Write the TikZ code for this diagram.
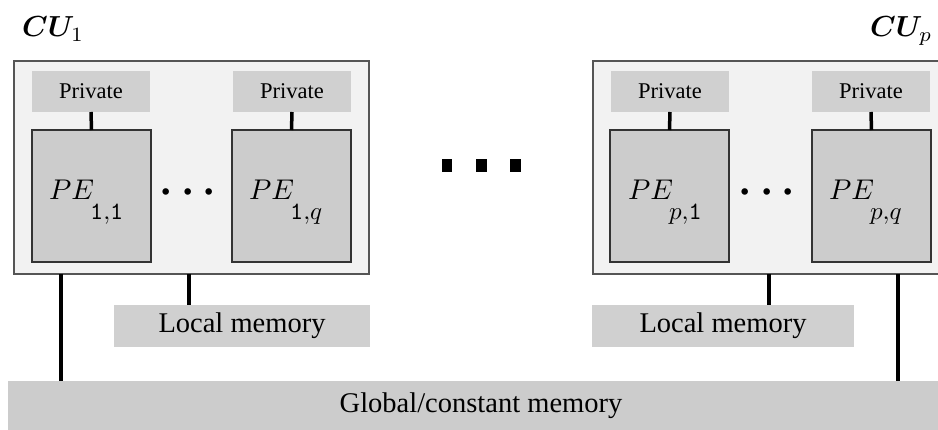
\documentclass[tikz,border=0pt]{standalone}
\usepackage{amsmath,bm}
\usepackage[no-math]{fontspec}
\setmainfont{Liberation Serif}
\usetikzlibrary{calc}
\definecolor{cuback}{HTML}{F2F2F2}
\definecolor{memgray}{HTML}{D0D0D0}
\definecolor{pegray}{HTML}{CCCCCC}
\definecolor{edgegray}{HTML}{555555}
% math set at 10pt and enlarged, so its fonts need not exist at big sizes
\newcommand{\bigmath}[2]{\scalebox{#1}{\normalsize$#2$}}

\begin{document}
\begin{tikzpicture}[x=1pt,y=-1pt,
  box/.style={inner sep=0pt, outer sep=0pt, anchor=north west},
  cubox/.style={box, draw=edgegray, fill=cuback, line width=1.5pt,
    minimum width=355pt, minimum height=213pt},
  privbox/.style={box, fill=memgray, minimum width=118pt, minimum height=41pt,
    font=\fontsize{22.5}{26}\selectfont},
  pebox/.style={box, draw=black!80, fill=pegray, line width=1.8pt,
    minimum width=119pt, minimum height=132pt},
  membox/.style={box, fill=memgray, minimum height=42pt,
    font=\fontsize{28.5}{32}\selectfont},
  culabel/.style={anchor=base west, inner sep=0pt},
  pelabel/.style={anchor=base west, inner sep=0pt},
  pedots/.style={inner sep=0pt},
  bigdot/.style={fill=black, inner sep=0pt, minimum width=10.5pt, minimum height=13pt},
  link/.style={line width=3.5pt}]

\useasboundingbox (0,0) rectangle (938,430);

% compute units
\node[cubox] (cu1) at (14,61) {};
\node[cubox] (cup) at (593,61) {};
\node[culabel] (cu1lab) at (22,37) {\bigmath{2.9}{\bm{CU}_1}};
\node[culabel] (cuplab) at (870,37) {\bigmath{2.9}{\bm{CU}_p}};

% private memories
\node[privbox] (pr11) at (32,71) {Private};
\node[privbox] (pr1q) at (233,71) {Private};
\node[privbox] (prp1) at (611,71) {Private};
\node[privbox] (prpq) at (812,71) {Private};

% processing elements
\newcommand{\pelab}[1]{\bigmath{2.85}{PE}\kern-4pt\raisebox{-20pt}{\bigmath{2.5}{#1}}}
\node[pebox] (pe11) at (32,130) {};
\node[pebox] (pe1q) at (232,130) {};
\node[pebox] (pep1) at (610,130) {};
\node[pebox] (pepq) at (812,130) {};
\node[pelabel] (pe11lab) at ($(pe11.north west)+(17,70)$) {\pelab{\mathtt{1}{,}\mathtt{1}}};
\node[pelabel] (pe1qlab) at ($(pe1q.north west)+(17,70)$) {\pelab{\mathtt{1}{,}q}};
\node[pelabel] (pep1lab) at ($(pep1.north west)+(18,70)$) {\pelab{p{,}\mathtt{1}}};
\node[pelabel] (pepqlab) at ($(pepq.north west)+(17,70)$) {\pelab{p{,}q}};

\node[pedots] (dots1) at (192,193) {\bigmath{4.2}{\bm{\cdots}}};
\node[pedots] (dotsp) at (771,193) {\bigmath{4.2}{\bm{\cdots}}};

% private -> PE links
\foreach \p/\e in {pr11/pe11, pr1q/pe1q, prp1/pep1, prpq/pepq}
  \draw[link] (\p.south) -- (\e.north);

% units in between
\node[bigdot] (d1) at (447,165.5) {};
\node[bigdot] (d2) at (481.5,165.5) {};
\node[bigdot] (d3) at (515.5,165.5) {};

% local and global memories
\node[membox, minimum width=256pt] (loc1) at (114,305) {Local memory};
\node[membox, minimum width=262pt] (locp) at (592,305) {Local memory};
\node[membox, fill=pegray, minimum width=946pt, minimum height=50pt] (glob) at (8,381)
  {Global/constant memory};

\coordinate (g1) at (61,0);
\coordinate (l1) at (189,0);
\coordinate (lp) at (769,0);
\coordinate (gp) at (898,0);
\draw[link] (g1 |- cu1.south) -- (g1 |- glob.north);
\draw[link] (l1 |- cu1.south) -- (l1 |- loc1.north);
\draw[link] (lp |- cup.south) -- (lp |- locp.north);
\draw[link] (gp |- cup.south) -- (gp |- glob.north);
\end{tikzpicture}
\end{document}
